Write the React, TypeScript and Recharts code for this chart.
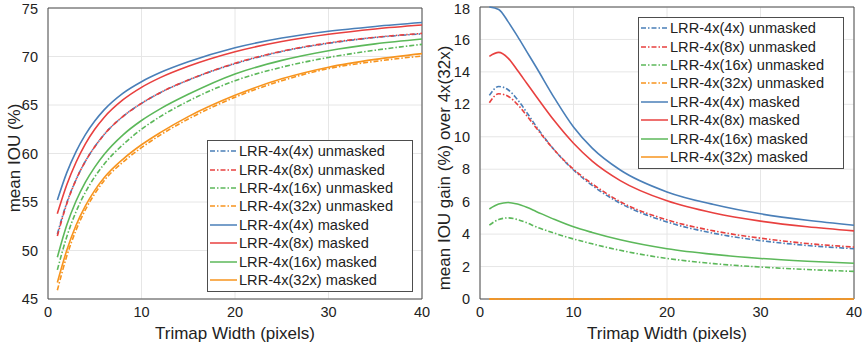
import React from "react";
import { LineChart, Line, XAxis, YAxis, CartesianGrid, ReferenceLine, Legend } from "recharts";

// trimap widths (pixels) sampled along the x axis
const trimapWidths = [1, 2, 3, 4, 5, 6, 8, 10, 12, 15, 20, 25, 30, 35, 40];

// left panel: mean IOU (%)
const iouUnmasked4x = [51.7, 54.9, 57.3, 59.2, 60.7, 61.95, 63.81, 65.17, 66.27, 67.56, 69.26, 70.51, 71.36, 71.96, 72.33];
const iouUnmasked8x = [51.5, 54.8, 57.3, 59.2, 60.7, 61.95, 63.81, 65.17, 66.27, 67.58, 69.3, 70.55, 71.4, 71.98, 72.38];
const iouUnmasked16x = [48.0, 51.4, 54.0, 56.0, 57.6, 58.9, 60.9, 62.5, 63.8, 65.4, 67.5, 68.9, 69.9, 70.65, 71.25];
const iouUnmasked32x = [45.9, 49.4, 52.1, 54.2, 55.85, 57.2, 59.1, 60.6, 61.9, 63.55, 65.8, 67.5, 68.75, 69.5, 70.05];
const iouMasked4x = [55.2, 58.0, 60.2, 61.95, 63.35, 64.5, 66.2, 67.4, 68.34, 69.45, 70.9, 71.9, 72.6, 73.1, 73.5];
const iouMasked8x = [53.8, 56.75, 59.1, 61.0, 62.5, 63.72, 65.52, 66.82, 67.82, 68.99, 70.49, 71.54, 72.29, 72.84, 73.24];
const iouMasked16x = [49.3, 52.6, 55.1, 57.05, 58.6, 59.9, 61.9, 63.4, 64.6, 66.1, 68.2, 69.6, 70.6, 71.3, 71.8];
const iouMasked32x = [46.7, 50.0, 52.6, 54.6, 56.2, 57.5, 59.4, 60.9, 62.15, 63.8, 66.0, 67.7, 68.9, 69.7, 70.3];

// right panel: mean IOU gain (%) over 4x(32x)
const gainUnmasked4x = [12.55, 13.1, 12.9, 12.3, 11.5, 10.65, 9.15, 7.95, 7.0, 5.9, 4.75, 4.05, 3.6, 3.3, 3.1];
const gainUnmasked8x = [12.1, 12.65, 12.5, 12.0, 11.3, 10.55, 9.15, 8.0, 7.1, 6.0, 4.88, 4.2, 3.75, 3.42, 3.2];
const gainUnmasked16x = [4.55, 4.9, 5.0, 4.9, 4.7, 4.45, 4.05, 3.7, 3.4, 3.0, 2.5, 2.18, 1.97, 1.82, 1.7];
const gainUnmasked32x = [0, 0, 0, 0, 0, 0, 0, 0, 0, 0, 0, 0, 0, 0, 0];
const gainMasked4x = [18.0, 17.85, 17.1, 16.2, 15.25, 14.3, 12.35, 10.6, 9.3, 7.95, 6.6, 5.82, 5.25, 4.85, 4.55];
const gainMasked8x = [14.96, 15.2, 14.85, 14.1, 13.3, 12.5, 10.95, 9.6, 8.5, 7.3, 6.05, 5.3, 4.8, 4.45, 4.2];
const gainMasked16x = [5.55, 5.85, 5.95, 5.85, 5.65, 5.4, 4.9, 4.45, 4.1, 3.65, 3.1, 2.75, 2.5, 2.33, 2.2];
const gainMasked32x = [0, 0, 0, 0, 0, 0, 0, 0, 0, 0, 0, 0, 0, 0, 0];

const xTicks = [0, 10, 20, 30, 40];
const iouTicks = [45, 50, 55, 60, 65, 70, 75];
const gainTicks = [0, 2, 4, 6, 8, 10, 12, 14, 16, 18];

const BLUE = "#4a7fb8";
const RED = "#e8403f";
const GREEN = "#5cb85a";
const ORANGE = "#f7941e";
const DASH = "5 2 1.5 2";
const FONT = '"Liberation Sans", Arial, Helvetica, sans-serif';
const AXIS = "#4d4d4d";

const seriesInfo = [
  { key: "u4", name: "LRR-4x(4x) unmasked", color: BLUE, dashed: true },
  { key: "u8", name: "LRR-4x(8x) unmasked", color: RED, dashed: true },
  { key: "u16", name: "LRR-4x(16x) unmasked", color: GREEN, dashed: true },
  { key: "u32", name: "LRR-4x(32x) unmasked", color: ORANGE, dashed: true },
  { key: "m4", name: "LRR-4x(4x) masked", color: BLUE, dashed: false },
  { key: "m8", name: "LRR-4x(8x) masked", color: RED, dashed: false },
  { key: "m16", name: "LRR-4x(16x) masked", color: GREEN, dashed: false },
  { key: "m32", name: "LRR-4x(32x) masked", color: ORANGE, dashed: false },
];

function buildRows(values: number[][]) {
  return trimapWidths.map((x, i) => {
    const row: any = { x };
    seriesInfo.forEach((s, j) => {
      row[s.key] = values[j][i];
    });
    return row;
  });
}

const iouData = buildRows([
  iouUnmasked4x, iouUnmasked8x, iouUnmasked16x, iouUnmasked32x,
  iouMasked4x, iouMasked8x, iouMasked16x, iouMasked32x,
]);
const gainData = buildRows([
  gainUnmasked4x, gainUnmasked8x, gainUnmasked16x, gainUnmasked32x,
  gainMasked4x, gainMasked8x, gainMasked16x, gainMasked32x,
]);

function BoxLegend() {
  return (
    <div style={{ border: `1px solid ${AXIS}`, background: "#fff", padding: "1px 0 2px", fontSize: 14.6, color: "#222", fontFamily: FONT, width: 204 }}>
      {seriesInfo.map((s) => (
        <div key={s.key} style={{ display: "flex", alignItems: "center", height: 18.4 }}>
          <svg width={31} height={10} style={{ flex: "none" }}>
            <line x1={2} x2={29} y1={5} y2={5} stroke={s.color} strokeWidth={1.5} strokeDasharray={s.dashed ? DASH : undefined} />
          </svg>
          <span style={{ whiteSpace: "nowrap" }}>{s.name}</span>
        </div>
      ))}
    </div>
  );
}

function yTitle(text: string, x: number, cy: number) {
  return () => (
    <text x={x} y={cy} transform={`rotate(-90, ${x}, ${cy})`} textAnchor="middle" dominantBaseline="central" fontSize={17} fill="#222" fontFamily={FONT}>
      {text}
    </text>
  );
}

function xTitle(cx: number) {
  return () => (
    <text x={cx} y={333} textAnchor="middle" dominantBaseline="central" fontSize={17} fill="#222" fontFamily={FONT}>
      Trimap Width (pixels)
    </text>
  );
}

type PanelProps = {
  data: any[];
  domain: [number, number];
  yTicks: number[];
  yWidth: number;
  marginTop: number;
  marginRight: number;
  yLabel: string;
  yLabelY: number;
  legendPos: { left: number; top: number };
};

function Panel({ data, domain, yTicks, yWidth, marginTop, marginRight, yLabel, yLabelY, legendPos }: PanelProps) {
  const width = yWidth + 374 + marginRight;
  return (
    <LineChart width={width} height={347} data={data} margin={{ top: marginTop, right: marginRight, bottom: 0, left: 0 }} style={{ fontFamily: FONT }}>
      <CartesianGrid stroke="#e6e6e6" />
      <XAxis
        dataKey="x"
        type="number"
        domain={[0, 40]}
        ticks={xTicks}
        height={48}
        tickLine={false}
        axisLine={{ stroke: AXIS }}
        tick={{ fontSize: 14.5, fill: "#222" }}
        tickMargin={2}
        label={{ content: xTitle(yWidth + 187) }}
      />
      <YAxis
        type="number"
        domain={domain}
        ticks={yTicks}
        width={yWidth}
        tickLine={false}
        axisLine={{ stroke: AXIS }}
        tick={{ fontSize: 14.5, fill: "#222" }}
        tickMargin={4}
        label={{ content: yTitle(yLabel, 14, yLabelY) }}
      />
      <ReferenceLine y={domain[1]} stroke={AXIS} />
      <ReferenceLine x={40} stroke={AXIS} />
      {seriesInfo.map((s) => (
        <Line
          key={s.key}
          dataKey={s.key}
          name={s.name}
          type="monotone"
          stroke={s.color}
          strokeWidth={1.6}
          strokeDasharray={s.dashed ? DASH : undefined}
          dot={false}
          zIndex={600}
          isAnimationActive={false}
        />
      ))}
      <Legend
        layout="vertical"
        align="center"
        verticalAlign="middle"
        content={<BoxLegend />}
        wrapperStyle={{ left: legendPos.left, top: legendPos.top, width: 206, height: "auto" }}
      />
    </LineChart>
  );
}

export default function App() {
  return (
    <div style={{ position: "absolute", left: 0, top: 0, width: 863, height: 347, background: "#fff" }}>
      <div style={{ position: "absolute", left: 0, top: 0 }}>
        <Panel
          data={iouData}
          domain={[45, 75]}
          yTicks={iouTicks}
          yWidth={48}
          marginTop={8}
          marginRight={8}
          yLabel="mean IOU (%)"
          yLabelY={158}
          legendPos={{ left: 207, top: 140 }}
        />
      </div>
      <div style={{ position: "absolute", left: 430, top: 0 }}>
        <Panel
          data={gainData}
          domain={[0, 18]}
          yTicks={gainTicks}
          yWidth={50}
          marginTop={7}
          marginRight={9}
          yLabel="mean IOU gain (%) over 4x(32x)"
          yLabelY={168}
          legendPos={{ left: 208, top: 17 }}
        />
      </div>
    </div>
  );
}
